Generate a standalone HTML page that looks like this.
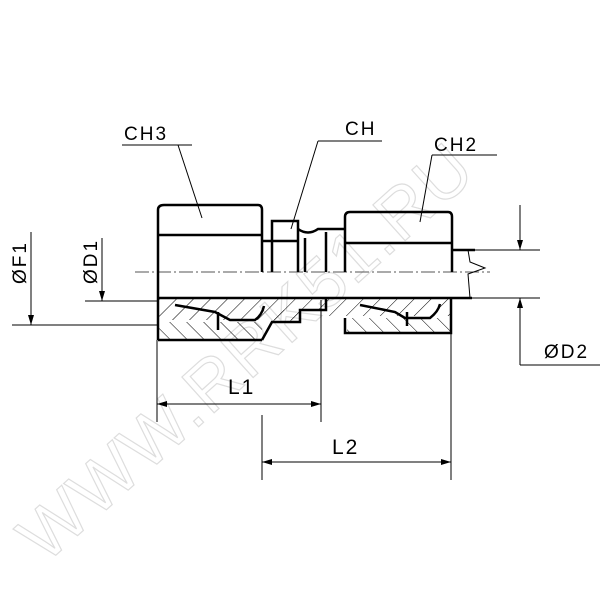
<!DOCTYPE html>
<html><head><meta charset="utf-8"><style>
html,body{margin:0;padding:0;background:#fff;width:600px;height:600px;overflow:hidden}
text{font-family:"Liberation Sans",sans-serif;fill:#000;letter-spacing:2px}
</style></head><body>
<svg width="600" height="600" viewBox="0 0 600 600" xmlns="http://www.w3.org/2000/svg">
<defs>
<pattern id="h1" width="12" height="12" patternUnits="userSpaceOnUse" patternTransform="rotate(45)"><line x1="0" y1="0" x2="0" y2="12" stroke="#000" stroke-width="1"/></pattern>
<pattern id="h2" width="12" height="12" patternUnits="userSpaceOnUse" patternTransform="rotate(-45)"><line x1="0" y1="0" x2="0" y2="12" stroke="#000" stroke-width="1"/></pattern>
<marker id="a" viewBox="0 0 10 6" refX="10" refY="3" markerWidth="16" markerHeight="6" markerUnits="userSpaceOnUse" orient="auto-start-reverse"><path d="M0,0L10,3L0,6z" fill="#000"/></marker>
</defs>
<text x="0" y="0" transform="translate(45,565) rotate(-42)" font-size="70" style="fill:none;stroke:#ddd;stroke-width:1.2">WWW.RRK51.RU</text>

<g stroke="#000" fill="none">
<line x1="135" y1="272" x2="490" y2="272" stroke="#555" stroke-width="1" stroke-dasharray="14,3,2,3"/>

<rect x="158" y="298" width="142" height="22" fill="url(#h1)" stroke="none"/>
<rect x="300" y="298" width="26" height="12" fill="url(#h1)" stroke="none"/>
<rect x="272" y="310" width="28" height="12" fill="url(#h1)" stroke="none"/>
<rect x="326" y="298" width="125" height="18" fill="url(#h1)" stroke="none"/>
<rect x="158" y="322" width="104" height="18" fill="url(#h2)" stroke="none"/>
<rect x="347" y="318" width="104" height="15" fill="url(#h2)" stroke="none"/>

<g stroke-width="2.5">
<path d="M158,340 L158,210 Q158,205 164,205 L258,205 Q262,205 262,210 L262,272"/>
<line x1="158" y1="235" x2="262" y2="235"/>
<line x1="158" y1="340" x2="262" y2="340"/>
<line x1="262" y1="241" x2="272" y2="241"/>
<path d="M272,272 L272,221 L298,221 L298,272"/>
<line x1="272" y1="241" x2="298" y2="241"/>
<path d="M298,229 Q308,236 318,229 L345,229"/>
<line x1="305" y1="238" x2="305" y2="272"/>
<line x1="326" y1="232" x2="326" y2="272"/>
<path d="M345,272 L345,217 Q345,212 350,212 L448,212 Q452,212 452,217 L452,272"/>
<line x1="345" y1="243" x2="452" y2="243"/>
<line x1="452" y1="250" x2="475" y2="250"/>
<path d="M345,318 L345,333 L451,333 L451,298"/>
<line x1="158" y1="298" x2="472" y2="298"/>
<path d="M262,340 L272,322 L300,322 L300,310 L326,310 L326,298"/>
<path d="M175,305 L215,312 L230,320 L255,320 Q262,315 264,306"/>
<path d="M360,305 L395,312 L405,318 L430,318 Q438,312 440,304"/>
<line x1="218" y1="312" x2="218" y2="330"/>
<line x1="407" y1="312" x2="407" y2="326"/>
</g>
<path d="M468,250 L470,262 L485,268 L468,274 L470,298" stroke-width="1"/>

<g stroke-width="1">
<line x1="31" y1="232" x2="31" y2="325" marker-end="url(#a)"/>
<line x1="12" y1="325" x2="158" y2="325"/>
<line x1="102" y1="238" x2="102" y2="301" marker-end="url(#a)"/>
<line x1="85" y1="301" x2="158" y2="301"/>
<line x1="157" y1="340" x2="157" y2="422"/>
<line x1="321" y1="300" x2="321" y2="422"/>
<line x1="157" y1="404" x2="321" y2="404" marker-start="url(#a)" marker-end="url(#a)"/>
<line x1="262" y1="415" x2="262" y2="480"/>
<line x1="451" y1="333" x2="451" y2="480"/>
<line x1="262" y1="462" x2="451" y2="462" marker-start="url(#a)" marker-end="url(#a)"/>
<line x1="475" y1="250" x2="540" y2="250"/>
<line x1="472" y1="298" x2="540" y2="298"/>
<line x1="520" y1="205" x2="520" y2="250" marker-end="url(#a)"/>
<line x1="520" y1="365" x2="520" y2="298" marker-end="url(#a)"/>
<line x1="520" y1="365" x2="600" y2="365"/>
<line x1="122" y1="145" x2="192" y2="145"/>
<line x1="178" y1="145" x2="202" y2="218"/>
<line x1="318" y1="141" x2="382" y2="141"/>
<line x1="318" y1="141" x2="291" y2="229"/>
<line x1="432" y1="155" x2="497" y2="155"/>
<line x1="432" y1="155" x2="420" y2="222"/>
</g>
</g>

<text x="124" y="140" font-size="19">CH3</text>
<text x="345" y="135" font-size="19">CH</text>
<text x="434" y="151" font-size="19">CH2</text>
<text x="228" y="394" font-size="21">L1</text>
<text x="332" y="454" font-size="21">L2</text>
<text x="544" y="358" font-size="19">ØD2</text>
<text transform="translate(26,284) rotate(-90)" font-size="19">ØF1</text>
<text transform="translate(97,284) rotate(-90)" font-size="19">ØD1</text>
</svg>
</body></html>
